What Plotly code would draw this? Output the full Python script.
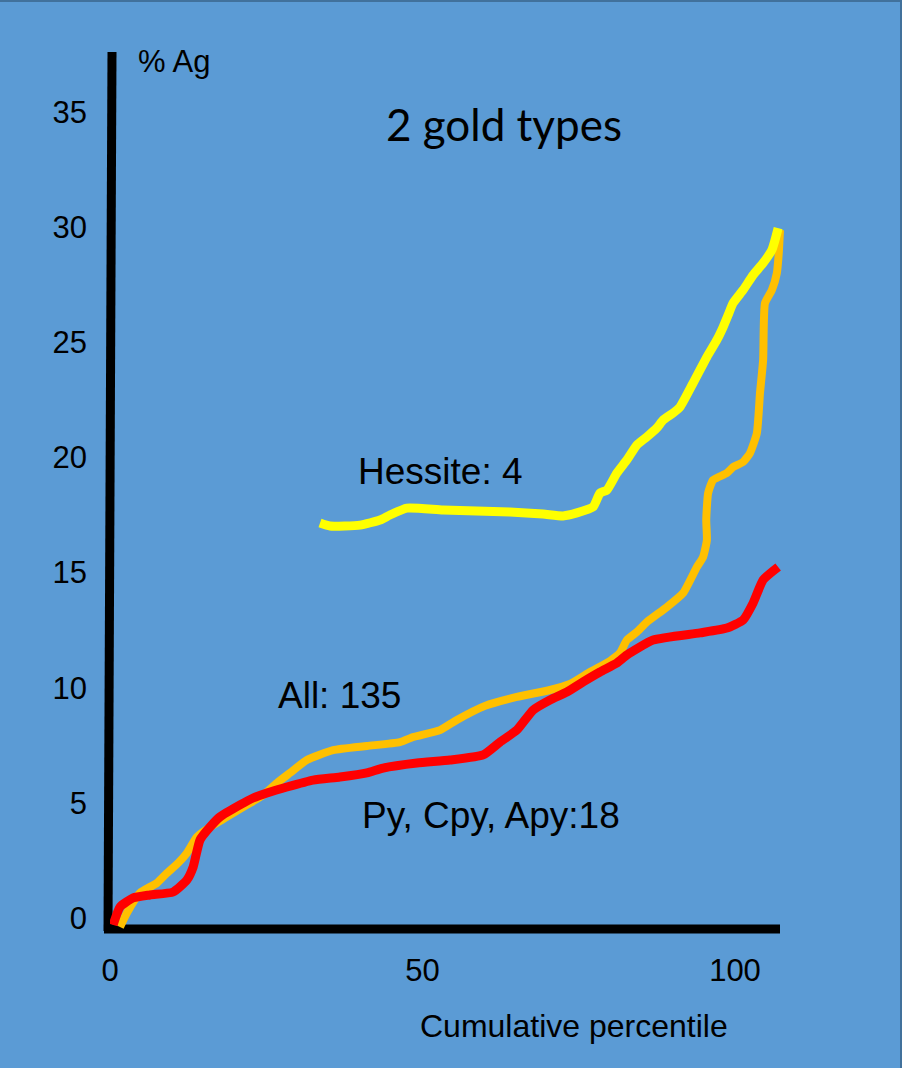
import plotly.graph_objects as go

# ---- data ----
all_x = [1.6, 2.7, 4.8, 7.5, 9.1, 10.9, 12.3, 13.9, 16.0, 18.7, 21.9, 24.5, 26.7, 28.8,
         31.5, 35.7, 41.1, 46.4, 48.5, 52.8, 55.5, 60.0, 65.1, 70.4, 73.6, 76.8, 80.0,
         81.6, 82.7, 84.3, 85.9, 89.1, 91.7, 93.9, 94.9, 95.5, 95.4, 95.7, 96.5, 98.7,
         99.7, 101.3, 102.4, 103.5, 104.0, 104.5, 104.8, 105.9, 106.7, 107.0, 107.2]
all_y = [-0.39, 0.22, 1.09, 1.52, 1.95, 2.39, 2.82, 3.52, 3.95, 4.39, 4.91, 5.34, 5.86, 6.30,
         6.86, 7.29, 7.47, 7.64, 7.86, 8.16, 8.60, 9.21, 9.60, 9.90, 10.16, 10.68, 11.16,
         11.51, 12.07, 12.42, 12.85, 13.50, 14.11, 15.24, 15.68, 16.41, 17.28, 18.45, 19.02, 19.32,
         19.58, 19.80, 20.19, 21.06, 22.80, 24.23, 26.70, 27.27, 28.01, 28.87, 29.87]

hes_x = [33.6, 35.2, 40.0, 43.2, 44.8, 47.5, 53.3, 64.0, 69.3, 72.5, 74.7, 77.3, 78.4, 79.5,
         81.1, 82.7, 84.3, 85.9, 87.5, 88.5, 90.1, 91.2, 93.3, 95.5, 97.1, 98.1, 98.9, 99.7,
         101.3, 102.9, 104.5, 105.9, 106.4, 106.9]
hes_y = [17.15, 17.02, 17.06, 17.28, 17.50, 17.80, 17.72, 17.63, 17.54, 17.46, 17.59, 17.85, 18.45, 18.58,
         19.32, 19.89, 20.54, 20.89, 21.28, 21.62, 21.93, 22.19, 23.23, 24.36, 25.10, 25.66, 26.18, 26.70,
         27.27, 27.92, 28.44, 29.01, 29.44, 29.96]

py_x = [0.5, 1.6, 3.7, 6.4, 10.1, 12.3, 13.3, 14.4, 16.0, 17.6, 20.8, 22.9, 25.1, 28.3, 32.5,
        36.8, 41.1, 43.7, 49.1, 54.4, 59.7, 62.4, 65.1, 67.7, 70.4, 73.1, 75.7, 78.4, 81.1,
        82.7, 86.9, 94.4, 98.7, 101.3, 102.9, 104.5, 106.9]
py_y = [-0.3, 0.48, 0.87, 1.00, 1.13, 1.65, 2.21, 3.39, 3.95, 4.39, 4.91, 5.21, 5.43, 5.69, 5.99,
        6.12, 6.30, 6.51, 6.73, 6.86, 7.08, 7.64, 8.16, 9.03, 9.47, 9.81, 10.25, 10.68, 11.07,
        11.42, 12.07, 12.38, 12.59, 12.94, 13.68, 14.68, 15.24]

y_ticks = [0, 5, 10, 15, 20, 25, 30, 35]
x_ticks = [0, 50, 100]

BG = "#5B9BD5"
FONT = "Liberation Sans, Arial, sans-serif"

fig = go.Figure()
fig.add_trace(go.Scatter(x=all_x, y=all_y, mode="lines", name="All: 135",
                         line=dict(color="#FFC000", width=8, shape="spline", smoothing=0.5)))
fig.add_trace(go.Scatter(x=hes_x, y=hes_y, mode="lines", name="Hessite: 4",
                         line=dict(color="#FFFF00", width=9, shape="spline", smoothing=0.5)))
fig.add_trace(go.Scatter(x=py_x, y=py_y, mode="lines", name="Py, Cpy, Apy:18",
                         line=dict(color="#FF0000", width=9, shape="spline", smoothing=0.5)))

L, R, T, B = 110, 100, 52, 139
W, H = 902, 1068
pw, ph = W - L - R, H - T - B

def px_x(p):
    return (p - L) / pw

def px_y(p):
    return (H - B - p) / ph

fig.update_layout(
    width=W, height=H,
    margin=dict(l=L, r=R, t=T, b=B),
    paper_bgcolor=BG, plot_bgcolor=BG,
    showlegend=False,
    font=dict(family=FONT, color="black"),
    xaxis=dict(range=[0, pw / 6.25], tickvals=x_ticks, ticktext=[str(v) for v in x_ticks],
               showgrid=False, zeroline=False, showline=False, ticks="",
               tickfont=dict(size=31, family=FONT, color="black"), ticklabelstandoff=20),
    yaxis=dict(range=[(918 - (H - B)) / 23.03, (918 - T) / 23.03], tickvals=y_ticks,
               ticktext=[str(v) for v in y_ticks],
               showgrid=False, zeroline=False, showline=False, ticks="",
               tickfont=dict(size=31, family=FONT, color="black"), ticklabelstandoff=22),
    shapes=[
        dict(type="line", xref="paper", yref="paper", x0=px_x(108), x1=px_x(112),
             y0=px_y(931), y1=px_y(52), line=dict(color="black", width=9), layer="below"),
        dict(type="line", xref="paper", yref="paper", x0=px_x(104), x1=px_x(780),
             y0=px_y(929), y1=px_y(929), line=dict(color="black", width=9), layer="below"),
        dict(type="line", xref="paper", yref="paper", x0=px_x(0), x1=px_x(902),
             y0=px_y(1), y1=px_y(1), line=dict(color="#41719C", width=2)),
        dict(type="line", xref="paper", yref="paper", x0=px_x(901), x1=px_x(901),
             y0=px_y(0), y1=px_y(1068), line=dict(color="#41719C", width=2)),
    ],
    annotations=[
        dict(text="% Ag", x=px_x(136), y=px_y(62), xref="paper", yref="paper",
             xanchor="left", yanchor="middle",
             showarrow=False, font=dict(size=31, family=FONT, color="black")),
        dict(text="2 gold types", x=px_x(384), y=px_y(124), xref="paper", yref="paper",
             xanchor="left", yanchor="middle", showarrow=False,
             font=dict(size=44, family="Lato, Liberation Sans, sans-serif", color="black")),
        dict(text="Hessite: 4", x=px_x(356), y=px_y(471), xref="paper", yref="paper",
             xanchor="left", yanchor="middle",
             showarrow=False, font=dict(size=37, family=FONT, color="black")),
        dict(text="All: 135", x=px_x(276), y=px_y(695), xref="paper", yref="paper",
             xanchor="left", yanchor="middle",
             showarrow=False, font=dict(size=37, family=FONT, color="black")),
        dict(text="Py, Cpy, Apy:18", x=px_x(360), y=px_y(815), xref="paper", yref="paper",
             xanchor="left", yanchor="middle",
             showarrow=False, font=dict(size=37, family=FONT, color="black")),
        dict(text="Cumulative percentile", x=px_x(418), y=px_y(1026), xref="paper", yref="paper",
             xanchor="left", yanchor="middle",
             showarrow=False, font=dict(size=32, family=FONT, color="black")),
    ],
)

fig.write_html("out.html", config={"displayModeBar": False},
               post_script="document.body.style.margin='0';document.body.style.padding='0';")
